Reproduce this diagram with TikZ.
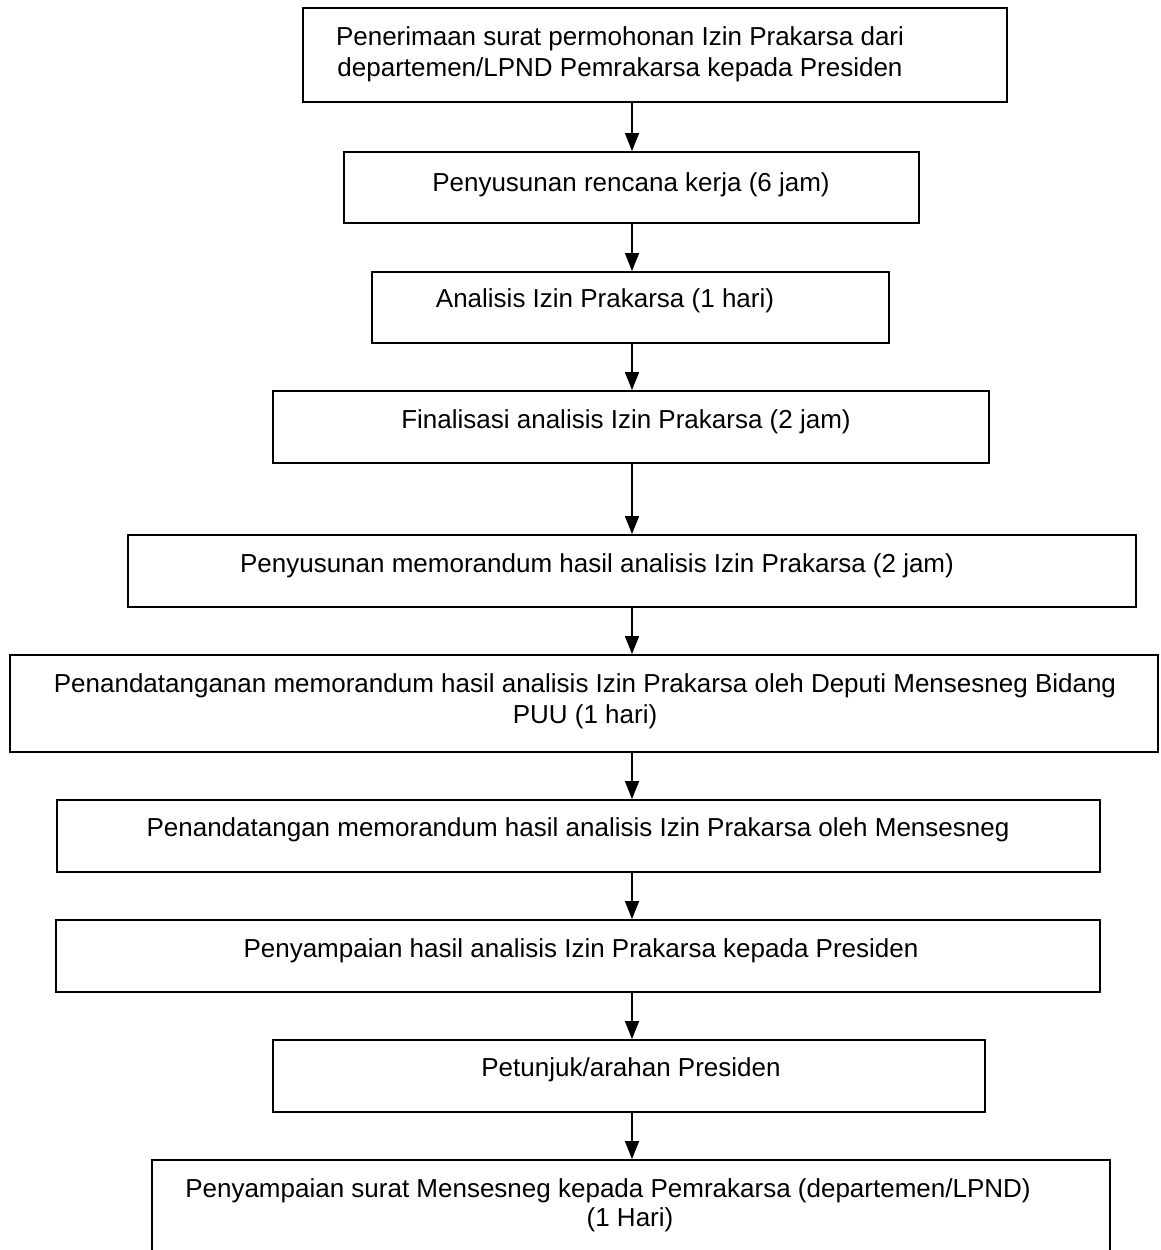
\documentclass[tikz,border=0pt]{standalone}
\usepackage{fontspec}
\setmainfont{Liberation Sans}
\usetikzlibrary{arrows.meta}
\begin{document}
\begin{tikzpicture}[x=1pt,y=-1pt,
  stepbox/.style={draw, line width=1.8pt, inner sep=0pt},
  txt/.style={anchor=base, inner sep=0pt, font=\fontsize{26}{32}\selectfont},
  flow/.style={line width=1.6pt, -{Triangle[width=14pt,length=18pt]}}]
\clip (0,0) rectangle (1160,1250);
\fill[white] (0,0) rectangle (1160,1250);
% process boxes
\node[stepbox, minimum width=704pt, minimum height=94pt] (b1) at (655,55) {};
\node[stepbox, minimum width=575pt, minimum height=71pt] (b2) at (631.5,187.5) {};
\node[stepbox, minimum width=517pt, minimum height=71pt] (b3) at (630.5,307.5) {};
\node[stepbox, minimum width=716pt, minimum height=72pt] (b4) at (631,427) {};
\node[stepbox, minimum width=1008pt, minimum height=72pt] (b5) at (632,571) {};
\node[stepbox, minimum width=1148pt, minimum height=97pt] (b6) at (584,703.5) {};
\node[stepbox, minimum width=1043pt, minimum height=72pt] (b7) at (578.5,836) {};
\node[stepbox, minimum width=1044pt, minimum height=72pt] (b8) at (578,956) {};
\node[stepbox, minimum width=712pt, minimum height=72pt] (b9) at (629,1076) {};
\node[stepbox, minimum width=958pt, minimum height=130pt] (b10) at (631,1225) {};
% box texts
\node[txt] (t1a) at (620,45) {Penerimaan surat permohonan Izin Prakarsa dari};
\node[txt] (t1b) at (620,76) {departemen/LPND Pemrakarsa kepada Presiden};
\node[txt] (t2) at (631,191) {Penyusunan rencana kerja (6 jam)};
\node[txt] (t3) at (605,307) {Analisis Izin Prakarsa (1 hari)};
\node[txt] (t4) at (626,428) {Finalisasi analisis Izin Prakarsa (2 jam)};
\node[txt] (t5) at (597,572) {Penyusunan memorandum hasil analisis Izin Prakarsa (2 jam)};
\node[txt] (t6a) at (585,692) {Penandatanganan memorandum hasil analisis Izin Prakarsa oleh Deputi Mensesneg Bidang};
\node[txt] (t6b) at (585,723) {PUU (1 hari)};
\node[txt] (t7) at (578,836) {Penandatangan memorandum hasil analisis Izin Prakarsa oleh Mensesneg};
\node[txt] (t8) at (581,957) {Penyampaian hasil analisis Izin Prakarsa kepada Presiden};
\node[txt] (t9) at (631,1076) {Petunjuk/arahan Presiden};
\node[txt] (t10a) at (608,1197) {Penyampaian surat Mensesneg kepada Pemrakarsa (departemen/LPND)};
\node[txt] (t10b) at (630,1226) {(1 Hari)};
% connectors
\coordinate (ax) at (632,0);
\foreach \a/\b in {b1/b2,b2/b3,b3/b4,b4/b5,b5/b6,b6/b7,b7/b8,b8/b9,b9/b10}
  \draw[flow] (\a.south -| ax) -- (\b.north -| ax);
\end{tikzpicture}
\end{document}
